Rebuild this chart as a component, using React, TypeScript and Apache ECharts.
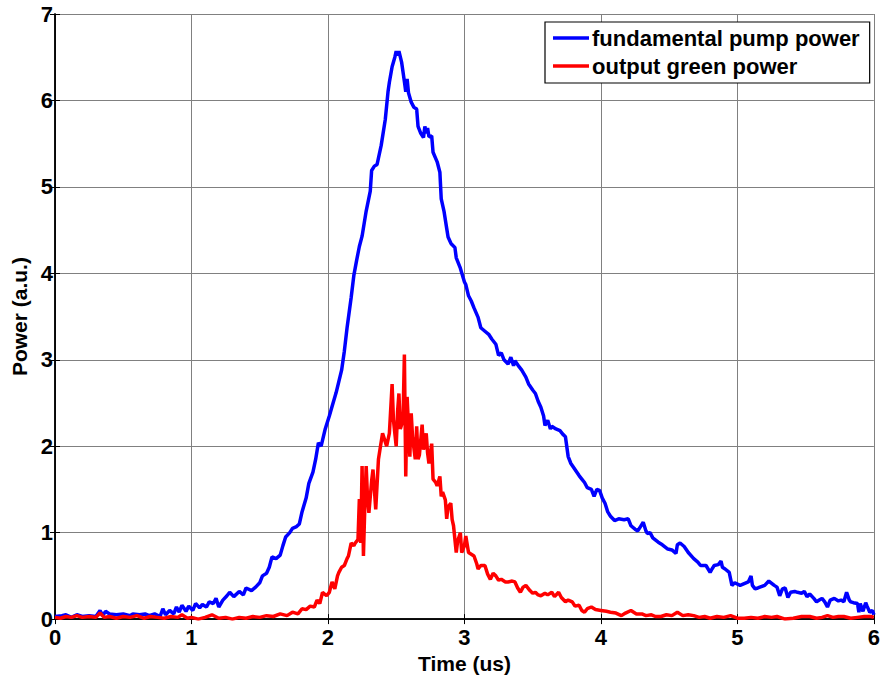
import React, { useEffect, useRef } from "react";
import * as echarts from "echarts";

const pumpTime = [
  0.0, 0.05, 0.08, 0.12, 0.16, 0.2, 0.25, 0.3, 0.33, 0.35, 0.37, 0.4, 0.45, 0.5, 0.55, 0.57, 0.62, 0.66, 0.69, 0.73,
  0.77, 0.79, 0.81, 0.84, 0.87, 0.89, 0.91, 0.93, 0.96, 0.98, 1.01, 1.03, 1.06, 1.08, 1.11, 1.13, 1.16, 1.18, 1.2, 1.23,
  1.26, 1.28, 1.31, 1.35, 1.38, 1.4, 1.44, 1.47, 1.5, 1.52, 1.55, 1.57, 1.59, 1.62, 1.65, 1.67, 1.69, 1.72, 1.74, 1.77,
  1.79, 1.81, 1.84, 1.86, 1.89, 1.91, 1.93, 1.95, 1.98, 2.01, 2.03, 2.06, 2.08, 2.1, 2.12, 2.14, 2.17, 2.19, 2.21, 2.23,
  2.25, 2.28, 2.31, 2.32, 2.34, 2.36, 2.39, 2.42, 2.44, 2.45, 2.47, 2.49, 2.5, 2.51, 2.52, 2.54, 2.56, 2.57, 2.58, 2.59,
  2.61, 2.63, 2.65, 2.66, 2.68, 2.7, 2.71, 2.72, 2.73, 2.74, 2.76, 2.77, 2.8, 2.82, 2.83, 2.85, 2.87, 2.88, 2.9, 2.91,
  2.93, 2.94, 2.97, 3.0, 3.01, 3.03, 3.05, 3.07, 3.1, 3.12, 3.15, 3.18, 3.2, 3.23, 3.25, 3.27, 3.29, 3.32, 3.34, 3.36,
  3.37, 3.4, 3.42, 3.45, 3.47, 3.5, 3.52, 3.54, 3.56, 3.58, 3.59, 3.61, 3.63, 3.64, 3.67, 3.7, 3.72, 3.74, 3.76, 3.78,
  3.81, 3.84, 3.86, 3.88, 3.9, 3.93, 3.95, 3.97, 3.99, 4.01, 4.03, 4.05, 4.07, 4.1, 4.13, 4.17, 4.2, 4.22, 4.25, 4.27,
  4.29, 4.31, 4.33, 4.34, 4.36, 4.38, 4.42, 4.45, 4.49, 4.52, 4.55, 4.56, 4.58, 4.61, 4.64, 4.68, 4.71, 4.73, 4.77, 4.8,
  4.81, 4.83, 4.86, 4.88, 4.89, 4.91, 4.94, 4.96, 4.98, 5.02, 5.05, 5.08, 5.1, 5.11, 5.13, 5.15, 5.2, 5.23, 5.27, 5.29,
  5.31, 5.33, 5.35, 5.37, 5.39, 5.42, 5.44, 5.47, 5.49, 5.51, 5.53, 5.56, 5.58, 5.6, 5.62, 5.64, 5.66, 5.68, 5.71, 5.74,
  5.76, 5.78, 5.8, 5.82, 5.83, 5.85, 5.88, 5.89, 5.9, 5.92, 5.94, 5.95, 5.97, 5.99, 6.0,
];
const pumpPower = [
  0.03, 0.04, 0.05, 0.02, 0.05, 0.03, 0.04, 0.03, 0.1, 0.04, 0.09, 0.06, 0.05, 0.06, 0.04, 0.06, 0.05, 0.06, 0.04, 0.06,
  0.03, 0.12, 0.05, 0.1, 0.06, 0.14, 0.08, 0.16, 0.09, 0.15, 0.1, 0.18, 0.13, 0.17, 0.14, 0.2, 0.18, 0.24, 0.14, 0.22,
  0.27, 0.31, 0.26, 0.32, 0.28, 0.36, 0.33, 0.37, 0.42, 0.5, 0.53, 0.6, 0.72, 0.7, 0.74, 0.85, 0.95, 1.0, 1.05, 1.07,
  1.1, 1.24, 1.4, 1.57, 1.7, 1.85, 2.04, 2.0, 2.2, 2.35, 2.46, 2.62, 2.75, 2.88, 3.1, 3.37, 3.72, 3.98, 4.15, 4.31,
  4.43, 4.72, 4.95, 5.19, 5.24, 5.26, 5.48, 5.78, 6.1, 6.21, 6.39, 6.5, 6.57, 6.52, 6.57, 6.44, 6.22, 6.1, 6.25, 6.09,
  5.98, 5.92, 5.9, 5.7, 5.62, 5.57, 5.7, 5.62, 5.68, 5.58, 5.59, 5.4, 5.29, 5.17, 4.86, 4.72, 4.52, 4.42, 4.35, 4.33,
  4.3, 4.18, 4.06, 3.9, 3.87, 3.74, 3.68, 3.6, 3.49, 3.37, 3.33, 3.29, 3.24, 3.18, 3.05, 3.08, 3.0, 2.95, 3.03, 2.93,
  2.99, 2.92, 2.88, 2.8, 2.72, 2.65, 2.61, 2.52, 2.45, 2.35, 2.24, 2.3, 2.2, 2.23, 2.2, 2.18, 2.14, 2.11, 1.88, 1.8,
  1.73, 1.66, 1.62, 1.58, 1.52, 1.5, 1.42, 1.5, 1.49, 1.4, 1.34, 1.24, 1.19, 1.14, 1.16, 1.15, 1.16, 1.08, 1.04, 1.02,
  1.07, 1.12, 1.02, 0.99, 1.0, 0.94, 0.89, 0.86, 0.81, 0.8, 0.76, 0.86, 0.88, 0.84, 0.77, 0.7, 0.66, 0.62, 0.62, 0.54,
  0.57, 0.62, 0.63, 0.67, 0.6, 0.58, 0.54, 0.39, 0.42, 0.39, 0.41, 0.43, 0.5, 0.39, 0.35, 0.36, 0.39, 0.44, 0.39, 0.37,
  0.27, 0.35, 0.36, 0.25, 0.31, 0.32, 0.31, 0.3, 0.32, 0.26, 0.29, 0.24, 0.2, 0.22, 0.24, 0.2, 0.14, 0.22, 0.24, 0.21,
  0.22, 0.2, 0.31, 0.22, 0.2, 0.19, 0.18, 0.08, 0.18, 0.09, 0.19, 0.15, 0.08, 0.1, 0.05,
];

const greenTime = [
  0.0, 0.04, 0.08, 0.12, 0.16, 0.2, 0.25, 0.3, 0.33, 0.36, 0.4, 0.45, 0.5, 0.55, 0.6, 0.65, 0.7, 0.75, 0.8, 0.85,
  0.9, 0.93, 0.97, 1.0, 1.05, 1.1, 1.15, 1.2, 1.25, 1.3, 1.35, 1.4, 1.45, 1.5, 1.55, 1.6, 1.65, 1.7, 1.74, 1.78,
  1.81, 1.84, 1.87, 1.9, 1.92, 1.94, 1.96, 1.99, 2.01, 2.03, 2.05, 2.07, 2.08, 2.1, 2.12, 2.14, 2.15, 2.17, 2.19, 2.2,
  2.22, 2.23, 2.24, 2.25, 2.26, 2.27, 2.28, 2.29, 2.3, 2.32, 2.33, 2.34, 2.35, 2.37, 2.38, 2.4, 2.42, 2.43, 2.45, 2.47,
  2.48, 2.5, 2.51, 2.52, 2.53, 2.55, 2.56, 2.57, 2.58, 2.59, 2.6, 2.61, 2.62, 2.64, 2.65, 2.66, 2.67, 2.69, 2.7, 2.72,
  2.73, 2.74, 2.76, 2.77, 2.79, 2.8, 2.82, 2.83, 2.84, 2.86, 2.87, 2.88, 2.9, 2.91, 2.92, 2.94, 2.95, 2.97, 2.98, 3.0,
  3.01, 3.03, 3.05, 3.07, 3.09, 3.1, 3.12, 3.15, 3.17, 3.19, 3.21, 3.23, 3.25, 3.27, 3.3, 3.32, 3.35, 3.37, 3.39, 3.41,
  3.43, 3.45, 3.48, 3.5, 3.52, 3.54, 3.56, 3.59, 3.61, 3.64, 3.66, 3.69, 3.71, 3.74, 3.76, 3.79, 3.81, 3.84, 3.86, 3.88,
  3.9, 3.93, 3.96, 4.0, 4.04, 4.07, 4.11, 4.15, 4.18, 4.22, 4.26, 4.3, 4.33, 4.37, 4.4, 4.44, 4.48, 4.52, 4.56, 4.6,
  4.64, 4.68, 4.72, 4.76, 4.8, 4.85, 4.9, 4.95, 5.0, 5.05, 5.1, 5.15, 5.2, 5.25, 5.29, 5.35, 5.41, 5.47, 5.53, 5.58,
  5.62, 5.66, 5.7, 5.74, 5.78, 5.83, 5.88, 5.93, 5.98, 6.0,
];
const greenPower = [
  0.02, 0.01, 0.03, 0.02, 0.04, 0.02, 0.03, 0.02, 0.07, 0.02, 0.03, 0.01, 0.03, 0.02, 0.04, 0.01, 0.03, 0.02, 0.01, 0.03,
  0.02, 0.05, 0.01, 0.02, 0.0, 0.02, 0.05, 0.01, 0.02, 0.0, 0.02, 0.01, 0.03, 0.02, 0.04, 0.03, 0.06, 0.04, 0.08, 0.06,
  0.12, 0.11, 0.15, 0.14, 0.22, 0.18, 0.31, 0.27, 0.31, 0.43, 0.35, 0.5, 0.54, 0.6, 0.62, 0.7, 0.73, 0.88, 0.85, 0.88,
  0.92, 1.39, 0.88, 1.77, 0.73, 1.3, 1.77, 1.4, 1.23, 1.6, 1.73, 1.5, 1.27, 1.85, 1.95, 2.15, 2.05, 2.0, 2.15, 2.72,
  2.3, 2.0, 2.4, 2.61, 2.2, 2.3, 3.06, 1.65, 2.57, 2.23, 1.88, 2.38, 2.1, 1.85, 2.23, 1.85, 1.9, 2.25, 1.96, 2.15,
  1.92, 1.8, 2.03, 1.62, 1.58, 1.54, 1.65, 1.42, 1.47, 1.38, 1.16, 1.3, 1.34, 1.15, 1.08, 0.77, 0.9, 1.0, 0.77, 0.85,
  0.96, 0.77, 0.75, 0.73, 0.64, 0.58, 0.62, 0.62, 0.52, 0.46, 0.53, 0.5, 0.45, 0.46, 0.43, 0.43, 0.44, 0.43, 0.36, 0.31,
  0.37, 0.39, 0.33, 0.3, 0.31, 0.28, 0.27, 0.3, 0.28, 0.31, 0.26, 0.31, 0.25, 0.2, 0.22, 0.2, 0.15, 0.16, 0.1, 0.08,
  0.12, 0.14, 0.11, 0.1, 0.09, 0.08, 0.07, 0.04, 0.07, 0.1, 0.06, 0.06, 0.04, 0.05, 0.03, 0.03, 0.05, 0.04, 0.08, 0.04,
  0.05, 0.04, 0.02, 0.03, 0.01, 0.03, 0.02, 0.04, 0.01, 0.01, 0.02, 0.01, 0.03, 0.02, 0.03, 0.0, 0.01, 0.03, 0.03, 0.01,
  0.02, 0.04, 0.02, 0.03, 0.03, 0.01, 0.02, 0.03, 0.03, 0.02,
];

const seriesNames = ["fundamental pump power", "output green power"];
const xTitle = "Time (us)";
const yTitle = "Power (a.u.)";

const FONT = "Arial, 'Liberation Sans', Helvetica, sans-serif";

export default function App() {
  const ref = useRef<HTMLDivElement>(null);
  useEffect(() => {
    if (!ref.current) return;
    const chart = echarts.init(ref.current, null, { renderer: "svg" });
    const pump = pumpTime.map((t, i) => [t, pumpPower[i]]);
    const green = greenTime.map((t, i) => [t, greenPower[i]]);
    const axisLine = { show: true, lineStyle: { color: "#000", width: 1.5 } };
    const tick = { show: true, inside: true, length: 5, lineStyle: { color: "#000", width: 1 } };
    const labelStyle = { color: "#000", fontFamily: FONT, fontWeight: "bold" as const, fontSize: 22 };
    chart.setOption({
      animation: false,
      backgroundColor: "#fff",
      grid: { left: 55, top: 14, width: 822, height: 610, containLabel: false },
      legend: {
        data: seriesNames,
        orient: "vertical",
        left: 545,
        top: 22,
        icon: "rect",
        itemWidth: 36,
        itemHeight: 3.5,
        itemGap: 6,
        padding: [5, 10, 6, 8],
        borderColor: "#000",
        borderWidth: 1.2,
        backgroundColor: "#fff",
        textStyle: { color: "#000", fontFamily: FONT, fontWeight: "bold", fontSize: 22, padding: [0, 0, 0, -2] },
      },
      xAxis: [
        {
          type: "value",
          min: 0,
          max: 6,
          interval: 1,
          axisLine,
          axisTick: tick,
          axisLabel: { ...labelStyle, margin: 7 },
          splitLine: { show: true, lineStyle: { color: "#808080", width: 1 } },
          name: xTitle,
          nameLocation: "middle",
          nameGap: 30,
          nameTextStyle: { ...labelStyle, fontSize: 21 },
        },
        {
          type: "value",
          position: "top",
          min: 0,
          max: 6,
          interval: 1,
          axisLine,
          axisTick: tick,
          axisLabel: { show: false },
          splitLine: { show: false },
        },
      ],
      yAxis: [
        {
          type: "value",
          min: 0,
          max: 7,
          interval: 1,
          axisLine,
          axisTick: tick,
          axisLabel: { ...labelStyle, margin: 2 },
          splitLine: { show: true, lineStyle: { color: "#808080", width: 1 } },
          name: yTitle,
          nameLocation: "middle",
          nameGap: 23,
          nameTextStyle: { ...labelStyle, fontSize: 21 },
        },
        {
          type: "value",
          position: "right",
          min: 0,
          max: 7,
          interval: 1,
          axisLine,
          axisTick: tick,
          axisLabel: { show: false },
          splitLine: { show: false },
        },
      ],
      series: [
        {
          name: seriesNames[0],
          type: "line",
          data: pump,
          showSymbol: false,
          color: "#0000ff",
          lineStyle: { color: "#0000ff", width: 3.5 },
          xAxisIndex: 0,
          yAxisIndex: 0,
        },
        {
          name: seriesNames[1],
          type: "line",
          data: green,
          showSymbol: false,
          color: "#ff0000",
          lineStyle: { color: "#ff0000", width: 3.5 },
          xAxisIndex: 0,
          yAxisIndex: 0,
        },
      ],
    });
    return () => chart.dispose();
  }, []);
  return (
    <div
      ref={ref}
      style={{ position: "absolute", left: 0, top: 0, width: 883, height: 679, background: "#fff" }}
    />
  );
}
